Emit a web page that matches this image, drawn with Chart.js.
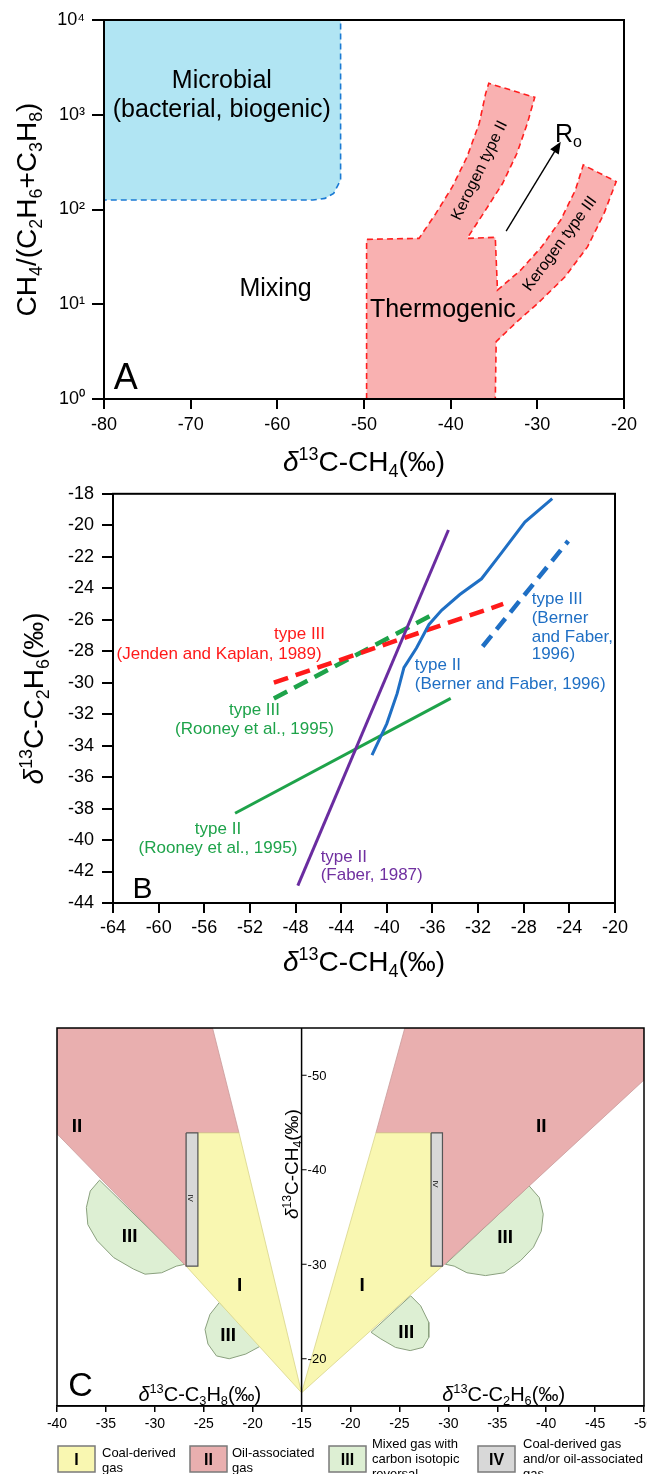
<!DOCTYPE html>
<html>
<head>
<meta charset="utf-8">
<script src="https://cdn.jsdelivr.net/npm/chart.js@4.4.1/dist/chart.umd.min.js"></script>
<style>
  body { margin: 0; background: #fff; }
  .panel { position: absolute; left: 0; width: 647px; }
</style>
</head>
<body>
<div class="panel" style="top:0;height:490px"><canvas id="chartA" width="647" height="490"></canvas></div>
<div class="panel" style="top:475px;height:510px"><canvas id="chartB" width="647" height="510"></canvas></div>
<div class="panel" style="top:985px;height:489px"><canvas id="chartC" width="647" height="489"></canvas></div>
<script>
// ---------- Panel A: CH4/(C2H6+C3H8) vs d13C-CH4 ----------
const aXTicks = [-80, -70, -60, -50, -40, -30, -20];
const aYTicks = [1, 10, 100, 1000, 10000];
const aYTickLabels = ['10⁰', '10¹', '10²', '10³', '10⁴'];

const microbialX = [-80, -52.7, -52.7, -53.5, -54.5, -55.9, -80, -80];
const microbialY = [10000, 10000, 205, 148, 131, 126, 126, 10000];

const thermoX = [-49.7, -49.7, -43.65, -41.7, -39.8, -38.1, -36.7, -35.96, -35.6, -30.3, -31.15, -32.35,
  -34.0, -35.96, -38.1, -34.85, -34.6, -31.9, -29.5, -27.3, -25.6, -24.7, -20.9, -22.3, -24.2,
  -26.8, -29.95, -32.35, -34.75, -34.85, -49.7];
const thermoY = [1, 48.4, 49.6, 91, 174, 361, 813, 1683, 2147, 1527, 813, 392,
  189, 99, 49.6, 50.8, 14.1, 23, 40.5, 77.5, 161, 295, 197, 91, 40.5,
  19.5, 10.2, 6.55, 4.03, 1, 1];

const roArrowX = [-33.6, -27.3];
const roArrowY = [59, 520];

// ---------- Panel B: d13C-C2H6 vs d13C-CH4 ----------
const bXRange = [-64, -20];
const bYRange = [-44, -18];
const faberX = [-47.8, -34.6];
const faberY = [-42.9, -20.3];
const bernerIIX = [-41.3, -40.0, -39.1, -38.5, -37.4, -36.3, -35.2, -33.6, -31.7, -30.1, -27.9, -25.5];
const bernerIIY = [-34.6, -32.6, -30.7, -29.05, -27.8, -26.3, -25.4, -24.4, -23.4, -21.9, -19.8, -18.3];
const bernerIIIX = [-31.6, -24.1];
const bernerIIIY = [-27.7, -21.0];
const jendenX = [-49.9, -29.8];
const jendenY = [-30.0, -25.0];
const rooneyIIIX = [-49.9, -35.8];
const rooneyIIIY = [-31.0, -25.6];
const rooneyIIX = [-53.3, -34.4];
const rooneyIIY = [-38.3, -31.0];

// ---------- Panel C: d13C-C3H8 (left) / d13C-C2H6 (right) vs d13C-CH4 ----------
const cLeftTicks = [-40, -35, -30, -25, -20, -15];
const cRightTicks = [-20, -25, -30, -35, -40, -45, -50];
const cYTicks = [-50, -40, -30, -20];

const oilLeftX = [-40, -24.1, -21.4, -26.8, -26.8, -40];
const oilLeftY = [-55, -55, -43.9, -43.9, -29.8, -43.8];
const coalLeftX = [-25.6, -21.4, -15, -26.8, -25.6];
const coalLeftY = [-43.9, -43.9, -16.4, -29.8, -29.8];
const bothLeftX = [-26.8, -25.6, -25.6, -26.8];
const bothLeftY = [-43.9, -43.9, -29.8, -29.8];
const mixedLeftAX = [-35.65, -36.6, -37.0, -36.85, -35.9, -34.2, -32.2, -31.0, -29.3, -27.8, -26.9];
const mixedLeftAY = [-38.9, -37.75, -36.0, -34.2, -32.5, -30.7, -29.5, -28.95, -29.1, -29.8, -30.0];
const mixedLeftBX = [-23.4, -24.36, -24.87, -24.57, -23.7, -22.4, -20.7, -19.45, -19.1];
const mixedLeftBY = [-25.96, -24.7, -23.1, -21.56, -20.3, -20.0, -20.5, -21.2, -21.4];

const oilRightX = [-25.55, -50, -50, -29.4, -29.4, -22.6];
const oilRightY = [-55, -55, -49.5, -29.8, -43.9, -43.9];
const coalRightX = [-22.6, -28.24, -28.24, -29.4, -15];
const coalRightY = [-43.9, -43.9, -29.8, -29.8, -16.4];
const bothRightX = [-28.24, -29.4, -29.4, -28.24];
const bothRightY = [-43.9, -43.9, -29.8, -29.8];
const mixedRightAX = [-38.25, -39.3, -39.7, -39.5, -38.7, -37.4, -35.7, -33.8, -31.9, -30.6, -29.7];
const mixedRightAY = [-38.3, -37.05, -35.3, -33.5, -31.8, -30.4, -29.1, -28.8, -29.1, -29.8, -30.0];
const mixedRightBX = [-26.15, -27.17, -28.0, -28.0, -27.4, -26.1, -24.6, -23.1, -22.1];
const mixedRightBY = [-26.66, -25.6, -23.85, -22.26, -21.2, -20.86, -21.2, -22.1, -22.8];

const legendNumerals = ['I', 'II', 'III', 'IV'];
const legendTexts = [
  ['Coal-derived', 'gas'],
  ['Oil-associated', 'gas'],
  ['Mixed gas with', 'carbon isotopic', 'reversal'],
  ['Coal-derived gas', 'and/or oil-associated', 'gas']
];

// ========================================
// helpers
// ========================================
const FONT = '"Liberation Sans", Arial, Helvetica, sans-serif';

function font(size, style) {
  return (style || '') + size + 'px ' + FONT;
}

function pts(xs, ys) {
  return xs.map((x, i) => ({ x: x, y: ys[i] }));
}

// left half of panel C runs -40..-15 (C3H8), right half -15..-50 (C2H6)
function leftPos(v) { return v + 40; }
function rightPos(v) { return 10 - v; }

function closed(xs, ys, toPos) {
  const p = xs.map((x, i) => ({ x: toPos ? toPos(x) : x, y: ys[i] }));
  p.push({ x: p[0].x, y: p[0].y });
  return p;
}

// draws text made of pieces: '' normal, 'it' italic, 'sup' / 'sub' small raised / lowered
function drawRich(ctx, parts, x, y, size, opts) {
  opts = opts || {};
  ctx.save();
  ctx.translate(x, y);
  if (opts.rotate) ctx.rotate(opts.rotate);
  const weight = opts.bold ? 'bold ' : '';
  let w = 0;
  const segs = parts.map(([t, k]) => {
    const s = (k === 'sup' || k === 'sub') ? size * 0.64 : size;
    const f = font(s, (k === 'it' ? 'italic ' : '') + weight);
    ctx.font = f;
    const mw = ctx.measureText(t).width;
    w += mw;
    return { t, k, f, mw };
  });
  let cx = opts.align === 'left' ? 0 : opts.align === 'right' ? -w : -w / 2;
  ctx.fillStyle = opts.color || '#000';
  ctx.textAlign = 'left';
  ctx.textBaseline = 'alphabetic';
  const base = size * 0.36;
  segs.forEach(sg => {
    ctx.font = sg.f;
    let dy = base;
    if (sg.k === 'sup') dy -= size * 0.38;
    if (sg.k === 'sub') dy += size * 0.2;
    ctx.fillText(sg.t, cx, dy);
    cx += sg.mw;
  });
  ctx.restore();
}

const frame = (width) => ({
  id: 'frame',
  afterDatasetsDraw(chart) {
    const a = chart.chartArea;
    const ctx = chart.ctx;
    ctx.save();
    ctx.strokeStyle = '#000';
    ctx.lineWidth = width;
    ctx.strokeRect(a.left, a.top, a.right - a.left, a.bottom - a.top);
    ctx.restore();
  }
});

function axisStyle(tickLen, lw) {
  return {
    grid: { drawOnChartArea: false, drawTicks: true, tickLength: tickLen, color: '#000', lineWidth: lw },
    border: { display: true, color: '#000', width: lw }
  };
}

const CH4_TITLE = [['δ', 'it'], ['13', 'sup'], ['C-CH', ''], ['4', 'sub'], ['(‰)', '']];

// ========================================
// Panel A
// ========================================
const aLabels = [
  { parts: [['Microbial', '']], x: -66.4, y: 2384, size: 25 },
  { parts: [['(bacterial, biogenic)', '']], x: -66.4, y: 1178, size: 25 },
  { parts: [['Mixing', '']], x: -60.2, y: 15.2, size: 25 },
  { parts: [['Thermogenic', '']], x: -40.9, y: 9.13, size: 25 },
  { parts: [['A', '']], x: -77.5, y: 1.75, size: 36 },
  { parts: [['R', ''], ['o', 'sub']], x: -26.4, y: 645, size: 25 },
  { parts: [['Kerogen type II', '']], x: -36.8, y: 261, size: 16, rotate: -64 },
  { parts: [['Kerogen type III', '']], x: -27.5, y: 44.3, size: 16, rotate: -53.6 }
];

new Chart(document.getElementById('chartA'), {
  type: 'scatter',
  data: {
    datasets: [
      {
        data: closed(thermoX, thermoY),
        showLine: true, fill: 'shape', tension: 0,
        backgroundColor: '#f9b1b1', borderColor: '#ff1f1f', borderWidth: 1.6, borderDash: [6, 4],
        pointRadius: 0
      },
      {
        data: pts(microbialX, microbialY),
        showLine: true, fill: 'shape', tension: 0,
        backgroundColor: '#b1e5f3', borderColor: '#1a7ad4', borderWidth: 1.6, borderDash: [6, 4],
        pointRadius: 0
      }
    ]
  },
  options: {
    responsive: false,
    animation: false,
    layout: { padding: { top: 20, right: 23, left: 0, bottom: 0 } },
    plugins: { legend: { display: false }, tooltip: { enabled: false } },
    scales: {
      x: {
        type: 'linear', min: -80, max: -20,
        afterBuildTicks: s => { s.ticks = aXTicks.map(v => ({ value: v })); },
        afterFit: s => { s.height = 91; },
        ticks: { color: '#000', font: { family: FONT, size: 18 }, padding: 5 },
        ...axisStyle(10, 2)
      },
      y: {
        type: 'logarithmic', min: 1, max: 10000,
        afterBuildTicks: s => { s.ticks = aYTicks.map(v => ({ value: v, major: true })); },
        afterFit: s => { s.width = 104; },
        ticks: {
          color: '#000', font: { family: FONT, size: 18 }, padding: 7,
          callback: v => aYTickLabels[aYTicks.indexOf(v)]
        },
        ...axisStyle(12, 2)
      }
    }
  },
  plugins: [frame(2), {
    id: 'annotateA',
    afterDraw(chart) {
      const ctx = chart.ctx;
      const sx = chart.scales.x, sy = chart.scales.y;
      // maturity arrow
      const x1 = sx.getPixelForValue(roArrowX[0]), y1 = sy.getPixelForValue(roArrowY[0]);
      const x2 = sx.getPixelForValue(roArrowX[1]), y2 = sy.getPixelForValue(roArrowY[1]);
      const ang = Math.atan2(y2 - y1, x2 - x1);
      ctx.save();
      ctx.strokeStyle = '#000';
      ctx.fillStyle = '#000';
      ctx.lineWidth = 1.4;
      ctx.beginPath();
      ctx.moveTo(x1, y1);
      ctx.lineTo(x2 - 8 * Math.cos(ang), y2 - 8 * Math.sin(ang));
      ctx.stroke();
      ctx.beginPath();
      ctx.moveTo(x2, y2);
      ctx.lineTo(x2 - 12 * Math.cos(ang) + 5 * Math.sin(ang), y2 - 12 * Math.sin(ang) - 5 * Math.cos(ang));
      ctx.lineTo(x2 - 12 * Math.cos(ang) - 5 * Math.sin(ang), y2 - 12 * Math.sin(ang) + 5 * Math.cos(ang));
      ctx.closePath();
      ctx.fill();
      ctx.restore();

      aLabels.forEach(l => {
        drawRich(ctx, l.parts, sx.getPixelForValue(l.x), sy.getPixelForValue(l.y), l.size,
          { rotate: l.rotate ? l.rotate * Math.PI / 180 : 0 });
      });
      const a = chart.chartArea;
      drawRich(ctx, CH4_TITLE, (a.left + a.right) / 2, 461, 28);
      drawRich(ctx,
        [['CH', ''], ['4', 'sub'], ['/(C', ''], ['2', 'sub'], ['H', ''], ['6', 'sub'], ['+C', ''], ['3', 'sub'], ['H', ''], ['8', 'sub'], [')', '']],
        26, (a.top + a.bottom) / 2, 28, { rotate: -Math.PI / 2 });
    }
  }]
});

// ========================================
// Panel B
// ========================================
const bLabels = [
  { lines: ['type III', '(Jenden and Kaplan, 1989)'], x: [-47.65, -54.7], y: [-26.86, -28.1], color: '#ff1a1a' },
  { lines: ['type III', '(Rooney et al., 1995)'], x: [-51.6, -51.6], y: [-31.66, -32.86], color: '#1ea34a' },
  { lines: ['type II', '(Rooney et al., 1995)'], x: [-54.8, -54.8], y: [-39.25, -40.45], color: '#1ea34a' },
  { lines: ['type II', '(Faber, 1987)'], x: [-45.8, -45.8], y: [-41.0, -42.16], color: '#7030a0', align: 'left' },
  { lines: ['type II', '(Berner and Faber, 1996)'], x: [-37.55, -37.55], y: [-28.8, -30.0], color: '#1f6fc4', align: 'left' },
  { lines: ['type III', '(Berner', 'and Faber,', '1996)'], x: [-27.3, -27.3, -27.3, -27.3], y: [-24.6, -25.8, -27.0, -28.1], color: '#1f6fc4', align: 'left' }
];

function lineSet(xs, ys, color, width, dash) {
  return {
    data: pts(xs, ys), showLine: true, fill: false, tension: 0,
    borderColor: color, borderWidth: width, borderDash: dash || [], pointRadius: 0,
    borderCapStyle: 'butt'
  };
}

new Chart(document.getElementById('chartB'), {
  type: 'scatter',
  data: {
    datasets: [
      lineSet(faberX, faberY, '#6a2ca0', 3),
      lineSet(bernerIIX, bernerIIY, '#1f6fc4', 3),
      lineSet(bernerIIIX, bernerIIIY, '#1f6fc4', 4.5, [14, 8]),
      lineSet(jendenX, jendenY, '#ff1a1a', 4.5, [15, 8]),
      lineSet(rooneyIIIX, rooneyIIIY, '#1ea34a', 4.5, [15, 8]),
      lineSet(rooneyIIX, rooneyIIY, '#1ea34a', 3)
    ]
  },
  options: {
    responsive: false,
    animation: false,
    layout: { padding: { top: 17, right: 32, left: 0, bottom: 0 } },
    plugins: { legend: { display: false }, tooltip: { enabled: false } },
    scales: {
      x: {
        type: 'linear', min: bXRange[0], max: bXRange[1],
        ticks: { stepSize: 4, color: '#000', font: { family: FONT, size: 18 }, padding: 4 },
        afterFit: s => { s.height = 82; },
        ...axisStyle(10, 2)
      },
      y: {
        type: 'linear', min: bYRange[0], max: bYRange[1],
        ticks: { stepSize: 2, color: '#000', font: { family: FONT, size: 18 }, padding: 8 },
        afterFit: s => { s.width = 113; },
        ...axisStyle(11, 2)
      }
    }
  },
  plugins: [frame(2), {
    id: 'annotateB',
    afterDraw(chart) {
      const ctx = chart.ctx;
      const sx = chart.scales.x, sy = chart.scales.y;
      bLabels.forEach(l => {
        l.lines.forEach((t, i) => {
          drawRich(ctx, [[t, '']], sx.getPixelForValue(l.x[i]), sy.getPixelForValue(l.y[i]), 17,
            { color: l.color, align: l.align || 'center' });
        });
      });
      drawRich(ctx, [['B', '']], sx.getPixelForValue(-62.3), sy.getPixelForValue(-43.0), 30, { align: 'left' });
      const a = chart.chartArea;
      drawRich(ctx, CH4_TITLE, (a.left + a.right) / 2, 486, 28);
      drawRich(ctx, [['δ', 'it'], ['13', 'sup'], ['C-C', ''], ['2', 'sub'], ['H', ''], ['6', 'sub'], ['(‰)', '']],
        33, (a.top + a.bottom) / 2, 28, { rotate: -Math.PI / 2 });
    }
  }]
});

// ========================================
// Panel C
// ========================================
const C_RED = '#e9afaf', C_YEL = '#f9f7b1', C_GRN = '#ddefd3', C_GRY = '#d8d8d8';

function shapeSet(data, fillCol, lineCol, lw) {
  return {
    data: data, showLine: true, fill: 'shape', tension: 0,
    backgroundColor: fillCol, borderColor: lineCol, borderWidth: lw, pointRadius: 0
  };
}

// listed bottom to top, then given a matching draw order
const cSets = [
  shapeSet(closed(mixedLeftAX, mixedLeftAY, leftPos), C_GRN, '#8aa07e', 1),
  shapeSet(closed(mixedLeftBX, mixedLeftBY, leftPos), C_GRN, '#8aa07e', 1),
  shapeSet(closed(mixedRightAX, mixedRightAY, rightPos), C_GRN, '#8aa07e', 1),
  shapeSet(closed(mixedRightBX, mixedRightBY, rightPos), C_GRN, '#8aa07e', 1),
  shapeSet(closed(oilLeftX, oilLeftY, leftPos), C_RED, '#c99a9a', 0.8),
  shapeSet(closed(oilRightX, oilRightY, rightPos), C_RED, '#c99a9a', 0.8),
  shapeSet(closed(coalLeftX, coalLeftY, leftPos), C_YEL, '#d8d48a', 0.8),
  shapeSet(closed(coalRightX, coalRightY, rightPos), C_YEL, '#d8d48a', 0.8),
  shapeSet(closed(bothLeftX, bothLeftY, leftPos), C_GRY, '#555', 1.2),
  shapeSet(closed(bothRightX, bothRightY, rightPos), C_GRY, '#555', 1.2)
];
cSets.forEach((d, i) => { d.order = cSets.length - i; });

const cLabels = [
  { t: 'II', x: 2.05, y: -44.7 }, { t: 'III', x: 7.42, y: -33.1 },
  { t: 'I', x: 18.67, y: -27.9 }, { t: 'III', x: 17.5, y: -22.65 },
  { t: 'II', x: 49.5, y: -44.7 }, { t: 'III', x: 45.8, y: -33.0 },
  { t: 'I', x: 31.2, y: -27.9 }, { t: 'III', x: 35.7, y: -22.97 }
];
const legendFills = [C_YEL, C_RED, C_GRN, C_GRY];

new Chart(document.getElementById('chartC'), {
  type: 'scatter',
  data: { datasets: cSets },
  options: {
    responsive: false,
    animation: false,
    layout: { padding: { top: 43, right: 3, left: 57, bottom: 0 } },
    plugins: { legend: { display: false }, tooltip: { enabled: false } },
    scales: {
      x: {
        type: 'linear', min: 0, max: 60,
        afterBuildTicks: s => {
          s.ticks = cLeftTicks.map(leftPos).concat(cRightTicks.map(rightPos)).map(v => ({ value: v }));
        },
        afterFit: s => { s.height = 68; },
        ticks: { display: false },
        ...axisStyle(6, 1.5)
      },
      y: { type: 'linear', min: -55, max: -15, reverse: true, display: false }
    }
  },
  plugins: [frame(1.5), {
    id: 'annotateC',
    afterDraw(chart) {
      const ctx = chart.ctx;
      const sx = chart.scales.x, sy = chart.scales.y;
      const a = chart.chartArea;
      const cx = sx.getPixelForValue(leftPos(-15));

      // bottom tick labels: C3H8 on the left, C2H6 on the right
      sx.ticks.forEach(t => {
        const lab = t.value <= 25 ? t.value - 40 : 10 - t.value;
        drawRich(ctx, [[String(lab), '']], sx.getPixelForValue(t.value), a.bottom + 17, 14);
      });

      // central CH4 axis
      ctx.save();
      ctx.strokeStyle = '#000';
      ctx.lineWidth = 1.5;
      ctx.beginPath();
      ctx.moveTo(cx, a.top);
      ctx.lineTo(cx, a.bottom);
      ctx.stroke();
      ctx.lineWidth = 1;
      cYTicks.forEach(v => {
        const py = sy.getPixelForValue(v);
        ctx.beginPath();
        ctx.moveTo(cx, py);
        ctx.lineTo(cx + 5, py);
        ctx.stroke();
        drawRich(ctx, [[String(v), '']], cx + 6, py, 13, { align: 'left' });
      });
      ctx.restore();

      cLabels.forEach(l => {
        drawRich(ctx, [[l.t, '']], sx.getPixelForValue(l.x), sy.getPixelForValue(l.y), 19, { bold: true });
      });
      drawRich(ctx, [['IV', '']], sx.getPixelForValue(13.7), sy.getPixelForValue(-37.0), 8, { rotate: Math.PI / 2 });
      drawRich(ctx, [['IV', '']], sx.getPixelForValue(38.75), sy.getPixelForValue(-38.5), 8, { rotate: Math.PI / 2 });
      drawRich(ctx, [['C', '']], sx.getPixelForValue(2.4), sy.getPixelForValue(-17.4), 34);
      drawRich(ctx, [['δ', 'it'], ['13', 'sup'], ['C-C', ''], ['3', 'sub'], ['H', ''], ['8', 'sub'], ['(‰)', '']],
        sx.getPixelForValue(14.6), sy.getPixelForValue(-16.3), 20);
      drawRich(ctx, [['δ', 'it'], ['13', 'sup'], ['C-C', ''], ['2', 'sub'], ['H', ''], ['6', 'sub'], ['(‰)', '']],
        sx.getPixelForValue(45.65), sy.getPixelForValue(-16.3), 20);
      drawRich(ctx, CH4_TITLE, cx - 10, sy.getPixelForValue(-40.6), 19, { rotate: -Math.PI / 2 });

      // legend row under the axis
      const boxX = [58, 190, 329, 478];
      const textX = [102, 232, 372, 523];
      const top = 461;
      legendNumerals.forEach((n, i) => {
        ctx.save();
        ctx.fillStyle = legendFills[i];
        ctx.strokeStyle = '#7a7a7a';
        ctx.lineWidth = 1.5;
        ctx.fillRect(boxX[i], top, 37, 26);
        ctx.strokeRect(boxX[i], top, 37, 26);
        ctx.restore();
        drawRich(ctx, [[n, '']], boxX[i] + 18.5, top + 13, 16, { bold: true });
        const lines = legendTexts[i];
        const y0 = lines.length === 3 ? top - 3 : top + 6;
        lines.forEach((t, j) => {
          drawRich(ctx, [[t, '']], textX[i], y0 + j * 15, 13, { align: 'left' });
        });
      });
    }
  }]
});
</script>
</body>
</html>
